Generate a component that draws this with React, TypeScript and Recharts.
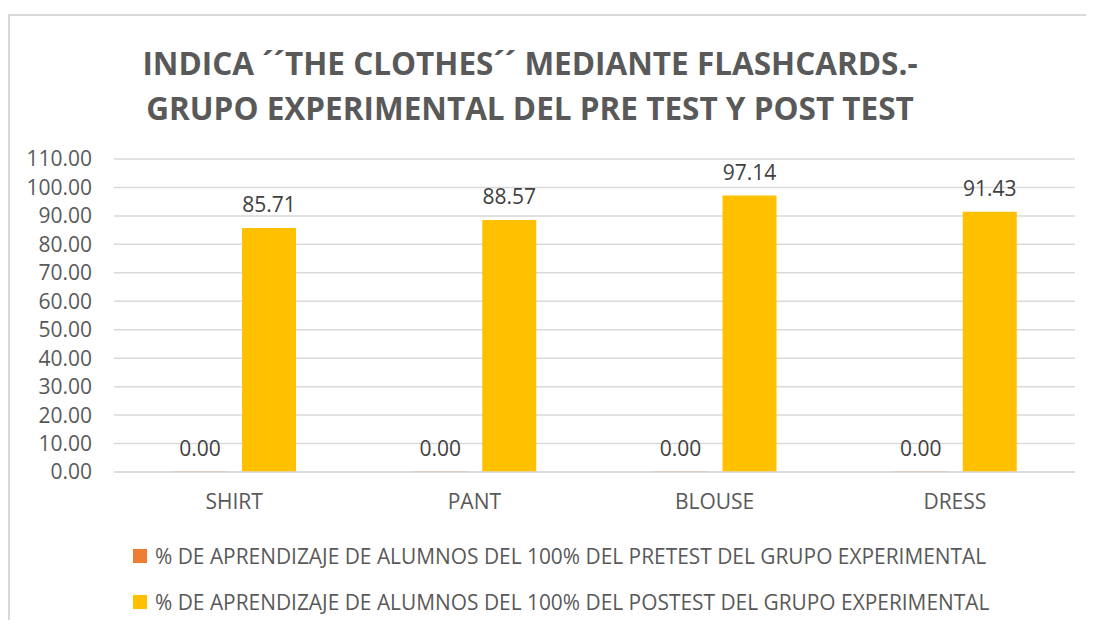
import React from 'react';
import { BarChart, Bar, XAxis, YAxis, CartesianGrid, LabelList } from 'recharts';

const categories = ['SHIRT', 'PANT', 'BLOUSE', 'DRESS'];
const pretest = [0, 0, 0, 0];
const posttest = [85.71, 88.57, 97.14, 91.43];
const yTicks = [0, 10, 20, 30, 40, 50, 60, 70, 80, 90, 100, 110];
const titleLines = [
  'INDICA ´´THE CLOTHES´´ MEDIANTE FLASHCARDS.-',
  'GRUPO EXPERIMENTAL DEL PRE TEST Y POST TEST',
];
const seriesNames = [
  '% DE APRENDIZAJE DE ALUMNOS DEL 100% DEL PRETEST DEL GRUPO EXPERIMENTAL',
  '% DE APRENDIZAJE DE ALUMNOS DEL 100% DEL POSTEST DEL GRUPO EXPERIMENTAL',
];
const colors = ['#ED7D31', '#FFC000'];

const data = categories.map((c, i) => ({ name: c, pre: pretest[i], post: posttest[i] }));

const FONT = '"Open Sans", sans-serif';

const renderValueLabel = (props: any) => {
  const { x, y, width, height, value } = props;
  const top = Math.min(Number(y), Number(y) + Number(height || 0));
  return (
    <text x={Number(x) + Number(width) / 2} y={top - 16} textAnchor="middle" fill="#404040" fontSize={21} fontFamily={FONT}>
      {Number(value).toFixed(2)}
    </text>
  );
};

export default function App() {
  return (
    <div style={{ margin: -8, width: 1094, height: 628, overflow: 'hidden', position: 'relative', background: '#fff' }}>
      <div style={{ position: 'absolute', left: 8, top: 14, width: 1200, height: 800, border: '2px solid #D9D9D9' }} />
      <div style={{ position: 'absolute', left: 0, top: 40, width: 1060, textAlign: 'center', fontFamily: FONT, fontWeight: 700, fontSize: 31.5, lineHeight: '45px', color: '#595959', whiteSpace: 'nowrap' }}>
        {titleLines.map((t) => (
          <div key={t}>{t}</div>
        ))}
      </div>
      <div style={{ position: 'absolute', left: 0, top: 0 }}>
        <BarChart width={1094} height={628} data={data} margin={{ top: 159, right: 19, bottom: 96, left: 0 }} barSize={54} barGap={15}>
          <CartesianGrid horizontal vertical={false} stroke="#D9D9D9" strokeWidth={1.5} />
          <XAxis dataKey="name" axisLine={{ stroke: '#D9D9D9', strokeWidth: 1.5 }} tickLine={false} tickSize={0} tickMargin={22} tick={{ fill: '#595959', fontSize: 21, fontFamily: FONT }} height={60} />
          <YAxis domain={[0, 110]} ticks={yTicks} interval={0} axisLine={false} tickLine={false} tickSize={0} tickMargin={22} width={114} tickFormatter={(v: number) => v.toFixed(2)} tick={{ fill: '#595959', fontSize: 21, fontFamily: FONT }} />
          <Bar dataKey="pre" name={seriesNames[0]} fill={colors[0]} minPointSize={0.4} isAnimationActive={false}>
            <LabelList dataKey="pre" content={renderValueLabel} />
          </Bar>
          <Bar dataKey="post" name={seriesNames[1]} fill={colors[1]} isAnimationActive={false}>
            <LabelList dataKey="post" content={renderValueLabel} />
          </Bar>
        </BarChart>
      </div>
      <div style={{ position: 'absolute', left: 133, top: 533, fontFamily: FONT }}>
        {seriesNames.map((n, i) => (
          <div key={n} style={{ display: 'flex', alignItems: 'center', height: 46 }}>
            <span style={{ display: 'inline-block', width: 14, height: 14, background: colors[i], marginRight: 8, flexShrink: 0 }} />
            <span style={{ fontSize: 20.9, color: '#595959', whiteSpace: 'nowrap' }}>{n}</span>
          </div>
        ))}
      </div>
    </div>
  );
}
